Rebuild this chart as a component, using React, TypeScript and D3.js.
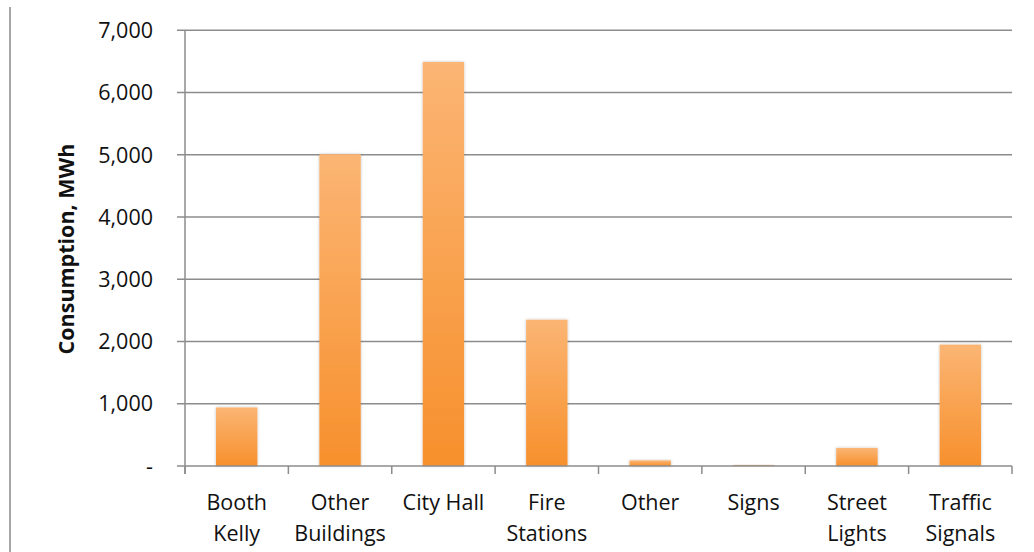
import React from "react";
import * as d3 from "d3";

// Annual electricity consumption by facility group (MWh)
const categories: string[][] = [
  ["Booth", "Kelly"],
  ["Other", "Buildings"],
  ["City Hall"],
  ["Fire", "Stations"],
  ["Other"],
  ["Signs"],
  ["Street", "Lights"],
  ["Traffic", "Signals"],
];
const consumption: number[] = [940, 5010, 6490, 2350, 90, 15, 290, 1950];
const yTicks: number[] = [0, 1000, 2000, 3000, 4000, 5000, 6000, 7000];

const W = 1034;
const H = 552;
const left = 185;
const right = 1012;
const top = 30.3;
const bottom = 466;

export default function App() {
  const x = d3
    .scaleBand<number>()
    .domain(d3.range(categories.length))
    .range([left, right])
    .paddingInner(0.6)
    .paddingOuter(0.3);
  const y = d3.scaleLinear().domain([0, 7000]).range([bottom, top]);
  const fmt = d3.format(",");
  const band = (right - left) / categories.length;
  const font = "'Open Sans', 'Noto Sans', sans-serif";

  return (
    <svg
      width={W}
      height={H}
      style={{ position: "absolute", left: 0, top: 0, background: "#fff" }}
    >
      <defs>
        <linearGradient id="barFill" x1="0" y1="0" x2="0" y2="1">
          <stop offset="0%" stopColor="#fbb574" />
          <stop offset="100%" stopColor="#f7902c" />
        </linearGradient>
        <filter id="soft" x="-20%" y="-20%" width="140%" height="140%">
          <feGaussianBlur in="SourceAlpha" stdDeviation="1.5" />
          <feOffset dx="0" dy="0" result="b" />
          <feComponentTransfer>
            <feFuncA type="linear" slope="0.25" />
          </feComponentTransfer>
          <feMerge>
            <feMergeNode />
            <feMergeNode in="SourceGraphic" />
          </feMerge>
        </filter>
      </defs>

      {/* frame edge on the left */}
      <line x1={10} x2={10} y1={7} y2={H} stroke="#a6a6a6" strokeWidth={2} />

      {/* gridlines and y ticks */}
      {yTicks.map((t) => (
        <g key={t}>
          <line
            x1={left - 8}
            x2={t === 0 ? left : right}
            y1={y(t)}
            y2={y(t)}
            stroke="#8c8c8c"
            strokeWidth={1.5}
          />
          <text
            x={153}
            y={y(t)}
            dy="0.36em"
            textAnchor="end"
            fontFamily={font}
            fontSize={21.5}
            fill="#111"
          >
            {t === 0 ? "-" : fmt(t)}
          </text>
        </g>
      ))}

      {/* bars */}
      {consumption.map((v, i) => (
        <rect
          key={i}
          x={x(i)!}
          width={x.bandwidth()}
          y={y(v)}
          height={bottom - y(v)}
          fill="url(#barFill)"
          filter="url(#soft)"
        />
      ))}

      {/* axes */}
      <line x1={left} x2={left} y1={top} y2={bottom + 8} stroke="#8c8c8c" strokeWidth={1.5} />
      <line x1={left} x2={right} y1={bottom} y2={bottom} stroke="#8c8c8c" strokeWidth={1.5} />
      {d3.range(categories.length + 1).map((i) => (
        <line
          key={i}
          x1={left + i * band}
          x2={left + i * band}
          y1={bottom}
          y2={bottom + 8}
          stroke="#8c8c8c"
          strokeWidth={1.5}
        />
      ))}

      {/* category labels */}
      {categories.map((lines, i) => (
        <text
          key={i}
          x={x(i)! + x.bandwidth() / 2}
          y={510}
          textAnchor="middle"
          fontFamily={font}
          fontSize={21.5}
          fill="#111"
        >
          {lines.map((l, j) => (
            <tspan key={j} x={x(i)! + x.bandwidth() / 2} dy={j === 0 ? 0 : 31}>
              {l}
            </tspan>
          ))}
        </text>
      ))}

      {/* y-axis title */}
      <text
        transform={`translate(74, 249) rotate(-90)`}
        textAnchor="middle"
        fontFamily={font}
        fontWeight="bold"
        fontSize={21.5}
        fill="#111"
      >
        Consumption, MWh
      </text>
    </svg>
  );
}
